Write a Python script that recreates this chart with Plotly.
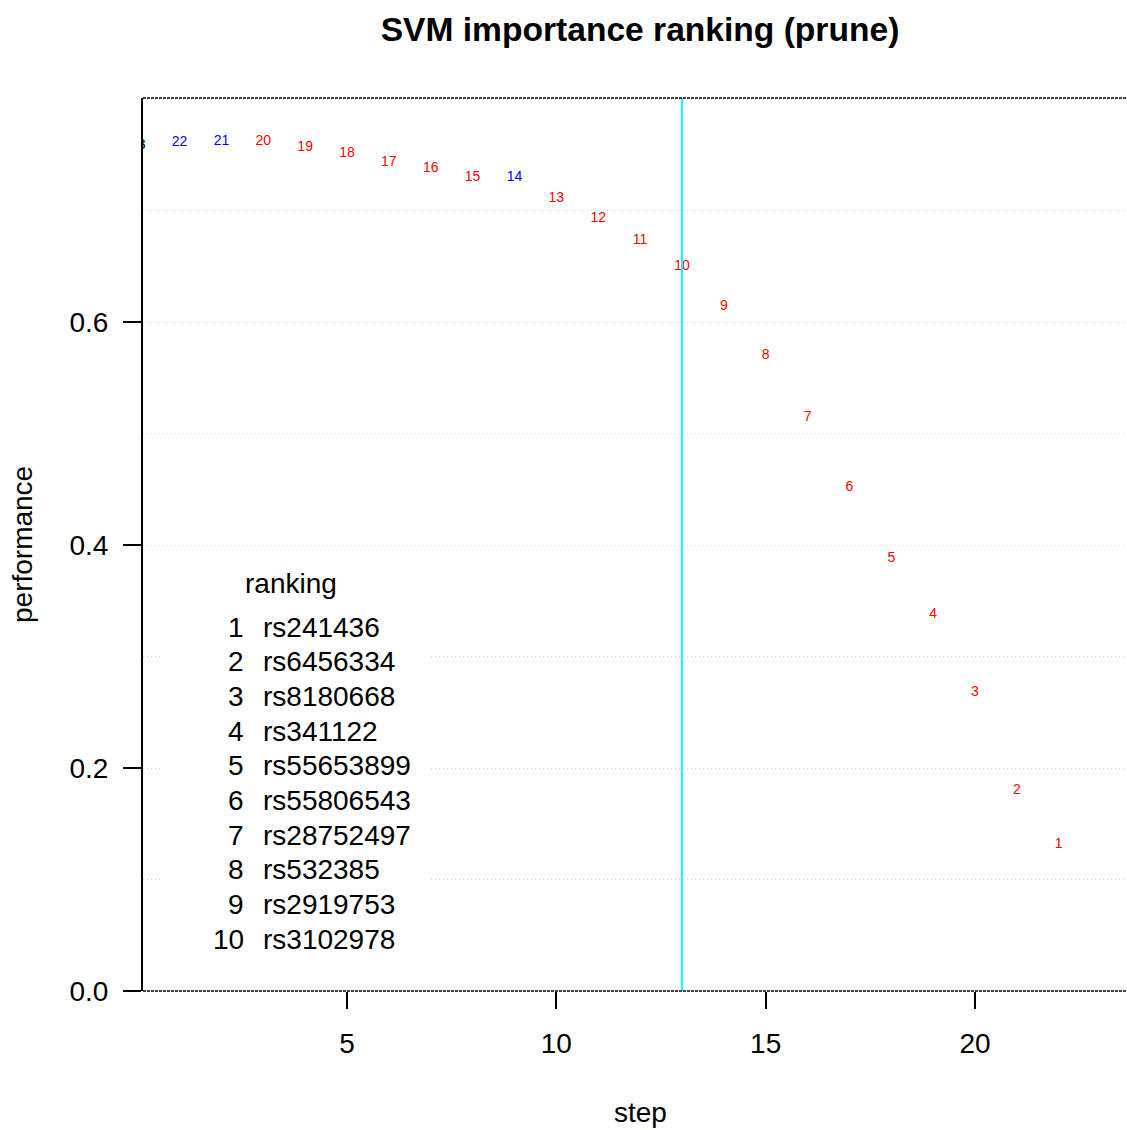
import plotly.graph_objects as go

# ---------------- data ----------------
steps = list(range(0, 23))
step_labels = ["23", "22", "21", "20", "19", "18", "17", "16", "15", "14", "13", "12",
               "11", "10", "9", "8", "7", "6", "5", "4", "3", "2", "1"]
performance = [0.758, 0.761, 0.762, 0.762, 0.757, 0.751, 0.743, 0.738, 0.730, 0.730,
               0.711, 0.693, 0.673, 0.650, 0.614, 0.570, 0.514, 0.452, 0.388, 0.338,
               0.268, 0.180, 0.131]
label_colors = ["#000000", "#0000FF", "#0000FF", "#FF0000", "#FF0000", "#FF0000",
                "#FF0000", "#FF0000", "#FF0000", "#0000FF", "#FF0000", "#FF0000",
                "#FF0000", "#FF0000", "#FF0000", "#FF0000", "#FF0000", "#FF0000",
                "#FF0000", "#FF0000", "#FF0000", "#FF0000", "#FF0000"]
cutoff_step = 13

legend_title = "ranking"
ranks = ["1", "2", "3", "4", "5", "6", "7", "8", "9", "10"]
snps = ["rs241436", "rs6456334", "rs8180668", "rs341122", "rs55653899",
        "rs55806543", "rs28752497", "rs532385", "rs2919753", "rs3102978"]

y_ticks = [0.0, 0.2, 0.4, 0.6]
x_ticks = [5, 10, 15, 20]

# ---------------- layout geometry ----------------
W, H = 1127, 1130
L, R, T, B = 143, 0, 98, 139
PW = W - L - R
PH = H - T - B
FONT = "Liberation Sans, Arial, Helvetica, sans-serif"
GRID = "#d0d0d0"


def px_x(px):
    return (px - L) / PW


def px_y(py):
    return (H - B - py) / PH


fig = go.Figure()

fig.add_trace(go.Scatter(
    x=steps, y=performance, mode="text", text=step_labels,
    textposition="middle center",
    textfont=dict(family=FONT, size=14, color=label_colors),
    cliponaxis=True, showlegend=False, hoverinfo="skip",
))

shapes = [
    # legend background (covers gridlines)
    dict(type="rect", xref="paper", yref="paper",
         x0=px_x(163), x1=px_x(430), y0=px_y(962), y1=px_y(560),
         fillcolor="white", line=dict(width=0), layer="above"),
    # cutoff line
    dict(type="line", xref="x", yref="paper", x0=cutoff_step, x1=cutoff_step,
         y0=0, y1=1, line=dict(color="#00FFFF", width=2)),
    # dashed top and bottom borders
    dict(type="line", xref="paper", yref="paper", x0=0, x1=1, y0=1, y1=1,
         line=dict(color="#444444", width=2, dash="3px,1px")),
    dict(type="line", xref="paper", yref="paper", x0=0, x1=1, y0=0, y1=0,
         line=dict(color="#444444", width=2, dash="3px,1px")),
]

annotations = [
    dict(text="step", xref="paper", yref="paper", x=px_x(640), y=px_y(1112),
         xanchor="center", yanchor="middle", showarrow=False,
         font=dict(family=FONT, size=28, color="black")),
    dict(text="performance", xref="paper", yref="paper", x=px_x(22), y=px_y(545),
         xanchor="center", yanchor="middle", showarrow=False, textangle=-90,
         font=dict(family=FONT, size=28, color="black")),
    dict(text=legend_title, xref="paper", yref="paper", x=px_x(291), y=px_y(583),
         xanchor="center", yanchor="middle", showarrow=False,
         font=dict(family=FONT, size=28, color="black")),
]
row0, row_gap = 627, 34.67
for i, (rk, nm) in enumerate(zip(ranks, snps)):
    yy = px_y(row0 + i * row_gap)
    annotations.append(dict(text=rk, xref="paper", yref="paper", x=px_x(246), y=yy,
                            xanchor="right", yanchor="middle", showarrow=False,
                            font=dict(family=FONT, size=28, color="black")))
    annotations.append(dict(text=nm, xref="paper", yref="paper", x=px_x(261), y=yy,
                            xanchor="left", yanchor="middle", showarrow=False,
                            font=dict(family=FONT, size=28, color="black")))

fig.update_layout(
    width=W, height=H,
    margin=dict(l=L, r=R, t=T, b=B, pad=0),
    paper_bgcolor="white", plot_bgcolor="white",
    font=dict(family=FONT, size=28, color="black"),
    title=dict(text="<b>SVM importance ranking (prune)</b>",
               x=640 / W, xanchor="center", xref="container",
               y=1 - 29 / H, yanchor="middle", yref="container",
               font=dict(family=FONT, size=33.6, color="black")),
    xaxis=dict(range=[0.127, 23.63], tickmode="array", tickvals=x_ticks,
               ticks="outside", ticklen=17, tickwidth=1.5, tickcolor="black",
               showline=False, showgrid=False, zeroline=False,
               ticklabelstandoff=10,
               tickfont=dict(family=FONT, size=28, color="black")),
    yaxis=dict(range=[0, 0.801], tickmode="array", tickvals=y_ticks,
               ticktext=["0.0", "0.2", "0.4", "0.6"],
               ticks="outside", ticklen=18, tickwidth=1.5, tickcolor="black",
               showline=True, linecolor="black", linewidth=2,
               showgrid=True, gridcolor=GRID, griddash="1px,3px", gridwidth=1,
               minor=dict(dtick=0.1, tick0=0, showgrid=True, gridcolor=GRID,
                          griddash="1px,3px", gridwidth=1, ticks=""),
               zeroline=False, ticklabelstandoff=9,
               tickfont=dict(family=FONT, size=28, color="black")),
    shapes=shapes,
    annotations=annotations,
    showlegend=False,
)

fig.write_html("out.html")
